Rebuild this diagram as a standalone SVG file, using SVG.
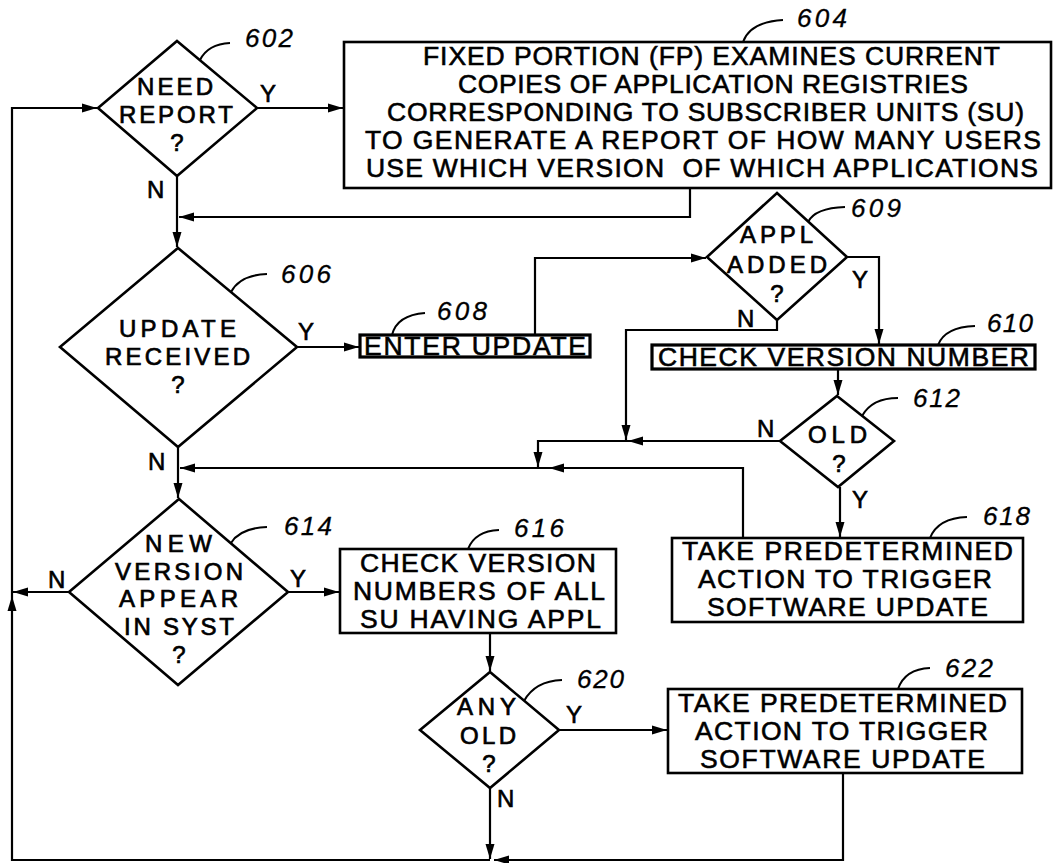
<svg xmlns="http://www.w3.org/2000/svg" width="1055" height="863" viewBox="0 0 1055 863">
<style>
.sh{fill:none;stroke:#000;stroke-width:2.6;stroke-linejoin:miter}
.bx2{fill:none;stroke:#000;stroke-width:3.2}
.cn{fill:none;stroke:#000;stroke-width:2.2}
.ld{fill:none;stroke:#000;stroke-width:2}
.t{font-family:"Liberation Sans",Arial,sans-serif;font-size:26.5px;fill:#000;stroke:#000;stroke-width:0.6}
.d{font-size:24px;stroke-width:0.7}
.c{text-anchor:middle}
.yn{font-family:"Liberation Sans",Arial,sans-serif;font-size:24px;fill:#000;stroke:#000;stroke-width:0.6}
.lb{font-family:"Liberation Sans",Arial,sans-serif;font-size:26px;font-style:italic;fill:#000;stroke:#000;stroke-width:0.3}
</style>
<defs>
<marker id="ah" markerUnits="userSpaceOnUse" markerWidth="15" markerHeight="10" refX="15" refY="5" orient="auto">
<path d="M0,0.5 L15,5 L0,9.5 z" fill="#000"/>
</marker>
</defs>
<rect width="1055" height="863" fill="#fff"/>

<g id="connectors">
<path class="cn" d="M843,773 V860 H494" marker-end="url(#ah)"/>
<path class="cn" d="M490,788 V859" marker-end="url(#ah)"/>
<path class="cn" d="M490,860 H12 V596" marker-end="url(#ah)"/>
<path class="cn" d="M12,596 V108 H97" marker-end="url(#ah)"/>
<path class="cn" d="M69,592 H13" marker-end="url(#ah)"/>
<path class="cn" d="M257,108 H343" marker-end="url(#ah)"/>
<path class="cn" d="M177,176 V247" marker-end="url(#ah)"/>
<path class="cn" d="M690,188 V217 H179" marker-end="url(#ah)"/>
<path class="cn" d="M297,347 H359" marker-end="url(#ah)"/>
<path class="cn" d="M535,335 V258 H706" marker-end="url(#ah)"/>
<path class="cn" d="M847,257 H879 V344" marker-end="url(#ah)"/>
<path class="cn" d="M777,320 V330 H626 V440" marker-end="url(#ah)"/>
<path class="cn" d="M838,369 V395" marker-end="url(#ah)"/>
<path class="cn" d="M780,441 H628" marker-end="url(#ah)"/>
<path class="cn" d="M628,441 H538 V467" marker-end="url(#ah)"/>
<path class="cn" d="M840,487 V537" marker-end="url(#ah)"/>
<path class="cn" d="M743,538 V468 H549" marker-end="url(#ah)"/>
<path class="cn" d="M549,468 H180" marker-end="url(#ah)"/>
<path class="cn" d="M178,447 V498" marker-end="url(#ah)"/>
<path class="cn" d="M288,592 H339" marker-end="url(#ah)"/>
<path class="cn" d="M490,633 V671" marker-end="url(#ah)"/>
<path class="cn" d="M559,730 H667" marker-end="url(#ah)"/>
</g>

<g id="labels-yn">
<text class="yn" x="260" y="102">Y</text>
<text class="yn" x="147" y="198">N</text>
<text class="yn" x="298" y="340">Y</text>
<text class="yn" x="148" y="470">N</text>
<text class="yn" x="852" y="288">Y</text>
<text class="yn" x="737" y="327">N</text>
<text class="yn" x="757" y="437">N</text>
<text class="yn" x="852" y="508">Y</text>
<text class="yn" x="48" y="588">N</text>
<text class="yn" x="290" y="587">Y</text>
<text class="yn" x="566" y="723">Y</text>
<text class="yn" x="497" y="807">N</text>
</g>

<g id="n602">
<polygon class="sh" points="177,41 257,108 177,176 98,108"/>
<text class="t d" x="137" y="95" textLength="76">NEED</text>
<text class="t d" x="119" y="123" textLength="114">REPORT</text>
<text class="t d c" x="177" y="151">?</text>
<path class="ld" d="M200,60 Q208,44 230,43"/>
<text class="lb" x="245" y="47" textLength="48">602</text>
</g>

<g id="n604">
<rect class="sh" x="344" y="42" width="707" height="146"/>
<text class="t" x="423" y="65" textLength="577">FIXED PORTION (FP) EXAMINES CURRENT</text>
<text class="t" x="458" y="93" textLength="510">COPIES OF APPLICATION REGISTRIES</text>
<text class="t" x="387" y="121" textLength="637">CORRESPONDING TO SUBSCRIBER UNITS (SU)</text>
<text class="t" x="365" y="149" textLength="676">TO GENERATE A REPORT OF HOW MANY USERS</text>
<text class="t" x="366" y="177" textLength="672" xml:space="preserve">USE WHICH VERSION  OF WHICH APPLICATIONS</text>
<path class="ld" d="M743,42 Q750,22 783,20"/>
<text class="lb" x="797" y="27" textLength="50">604</text>
</g>

<g id="n606">
<polygon class="sh" points="178,248 297,347 178,447 60,347"/>
<text class="t d" x="119" y="337" textLength="117">UPDATE</text>
<text class="t d" x="105" y="365" textLength="145">RECEIVED</text>
<text class="t d c" x="178" y="393">?</text>
<path class="ld" d="M231,292 Q240,275 267,274"/>
<text class="lb" x="281" y="283" textLength="50">606</text>
</g>

<g id="n608">
<rect class="bx2" x="360" y="335" width="230" height="22"/>
<text class="t" x="364" y="355" textLength="222">ENTER UPDATE</text>
<path class="ld" d="M392,335 Q397,315 425,313"/>
<text class="lb" x="437" y="320" textLength="50">608</text>
</g>

<g id="n609">
<polygon class="sh" points="777,193 847,257 777,320 707,257"/>
<text class="t d" x="740" y="243" textLength="73">APPL</text>
<text class="t d" x="727" y="273" textLength="100">ADDED</text>
<text class="t d c" x="777" y="302">?</text>
<path class="ld" d="M808,222 Q815,208 845,207"/>
<text class="lb" x="851" y="217" textLength="50">609</text>
</g>

<g id="n610">
<rect class="bx2" x="652" y="345" width="383" height="24"/>
<text class="t" x="658" y="366" textLength="371">CHECK VERSION NUMBER</text>
<path class="ld" d="M938,345 Q945,327 975,326"/>
<text class="lb" x="987" y="332" textLength="46">610</text>
</g>

<g id="n612">
<polygon class="sh" points="837,396 894,441 838,487 780,441"/>
<text class="t d" x="808" y="443" textLength="59">OLD</text>
<text class="t d c" x="839" y="472">?</text>
<path class="ld" d="M862,416 Q872,398 898,398"/>
<text class="lb" x="913" y="407" textLength="47">612</text>
</g>

<g id="n614">
<polygon class="sh" points="179,499 288,592 178,685 69,592"/>
<text class="t d" x="145" y="552" textLength="67">NEW</text>
<text class="t d" x="115" y="580" textLength="128">VERSION</text>
<text class="t d" x="119" y="607" textLength="119">APPEAR</text>
<text class="t d" x="124" y="635" textLength="110" xml:space="preserve">IN SYST</text>
<text class="t d c" x="179" y="663">?</text>
<path class="ld" d="M231,543 Q240,528 267,527"/>
<text class="lb" x="284" y="535" textLength="48">614</text>
</g>

<g id="n616">
<rect class="sh" x="340" y="549" width="276" height="84"/>
<text class="t" x="360" y="572" textLength="236">CHECK VERSION</text>
<text class="t" x="353" y="600" textLength="252">NUMBERS OF ALL</text>
<text class="t" x="360" y="628" textLength="241">SU HAVING APPL</text>
<path class="ld" d="M468,549 Q475,531 499,530"/>
<text class="lb" x="514" y="537" textLength="50">616</text>
</g>

<g id="n618">
<rect class="sh" x="672" y="538" width="351" height="84"/>
<text class="t" x="682" y="560" textLength="331">TAKE PREDETERMINED</text>
<text class="t" x="698" y="588" textLength="294">ACTION TO TRIGGER</text>
<text class="t" x="707" y="616" textLength="281">SOFTWARE UPDATE</text>
<path class="ld" d="M930,538 Q938,518 967,517"/>
<text class="lb" x="983" y="525" textLength="47">618</text>
</g>

<g id="n620">
<polygon class="sh" points="490,672 559,730 490,788 420,730"/>
<text class="t d" x="457" y="715" textLength="59">ANY</text>
<text class="t d" x="460" y="744" textLength="56">OLD</text>
<text class="t d c" x="489" y="772">?</text>
<path class="ld" d="M524,701 Q535,681 562,680"/>
<text class="lb" x="577" y="688" textLength="47">620</text>
</g>

<g id="n622">
<rect class="sh" x="668" y="689" width="354" height="84"/>
<text class="t" x="678" y="712" textLength="329">TAKE PREDETERMINED</text>
<text class="t" x="695" y="740" textLength="293">ACTION TO TRIGGER</text>
<text class="t" x="700" y="768" textLength="285">SOFTWARE UPDATE</text>
<path class="ld" d="M898,689 Q905,669 930,668"/>
<text class="lb" x="945" y="677" textLength="48">622</text>
</g>
</svg>
